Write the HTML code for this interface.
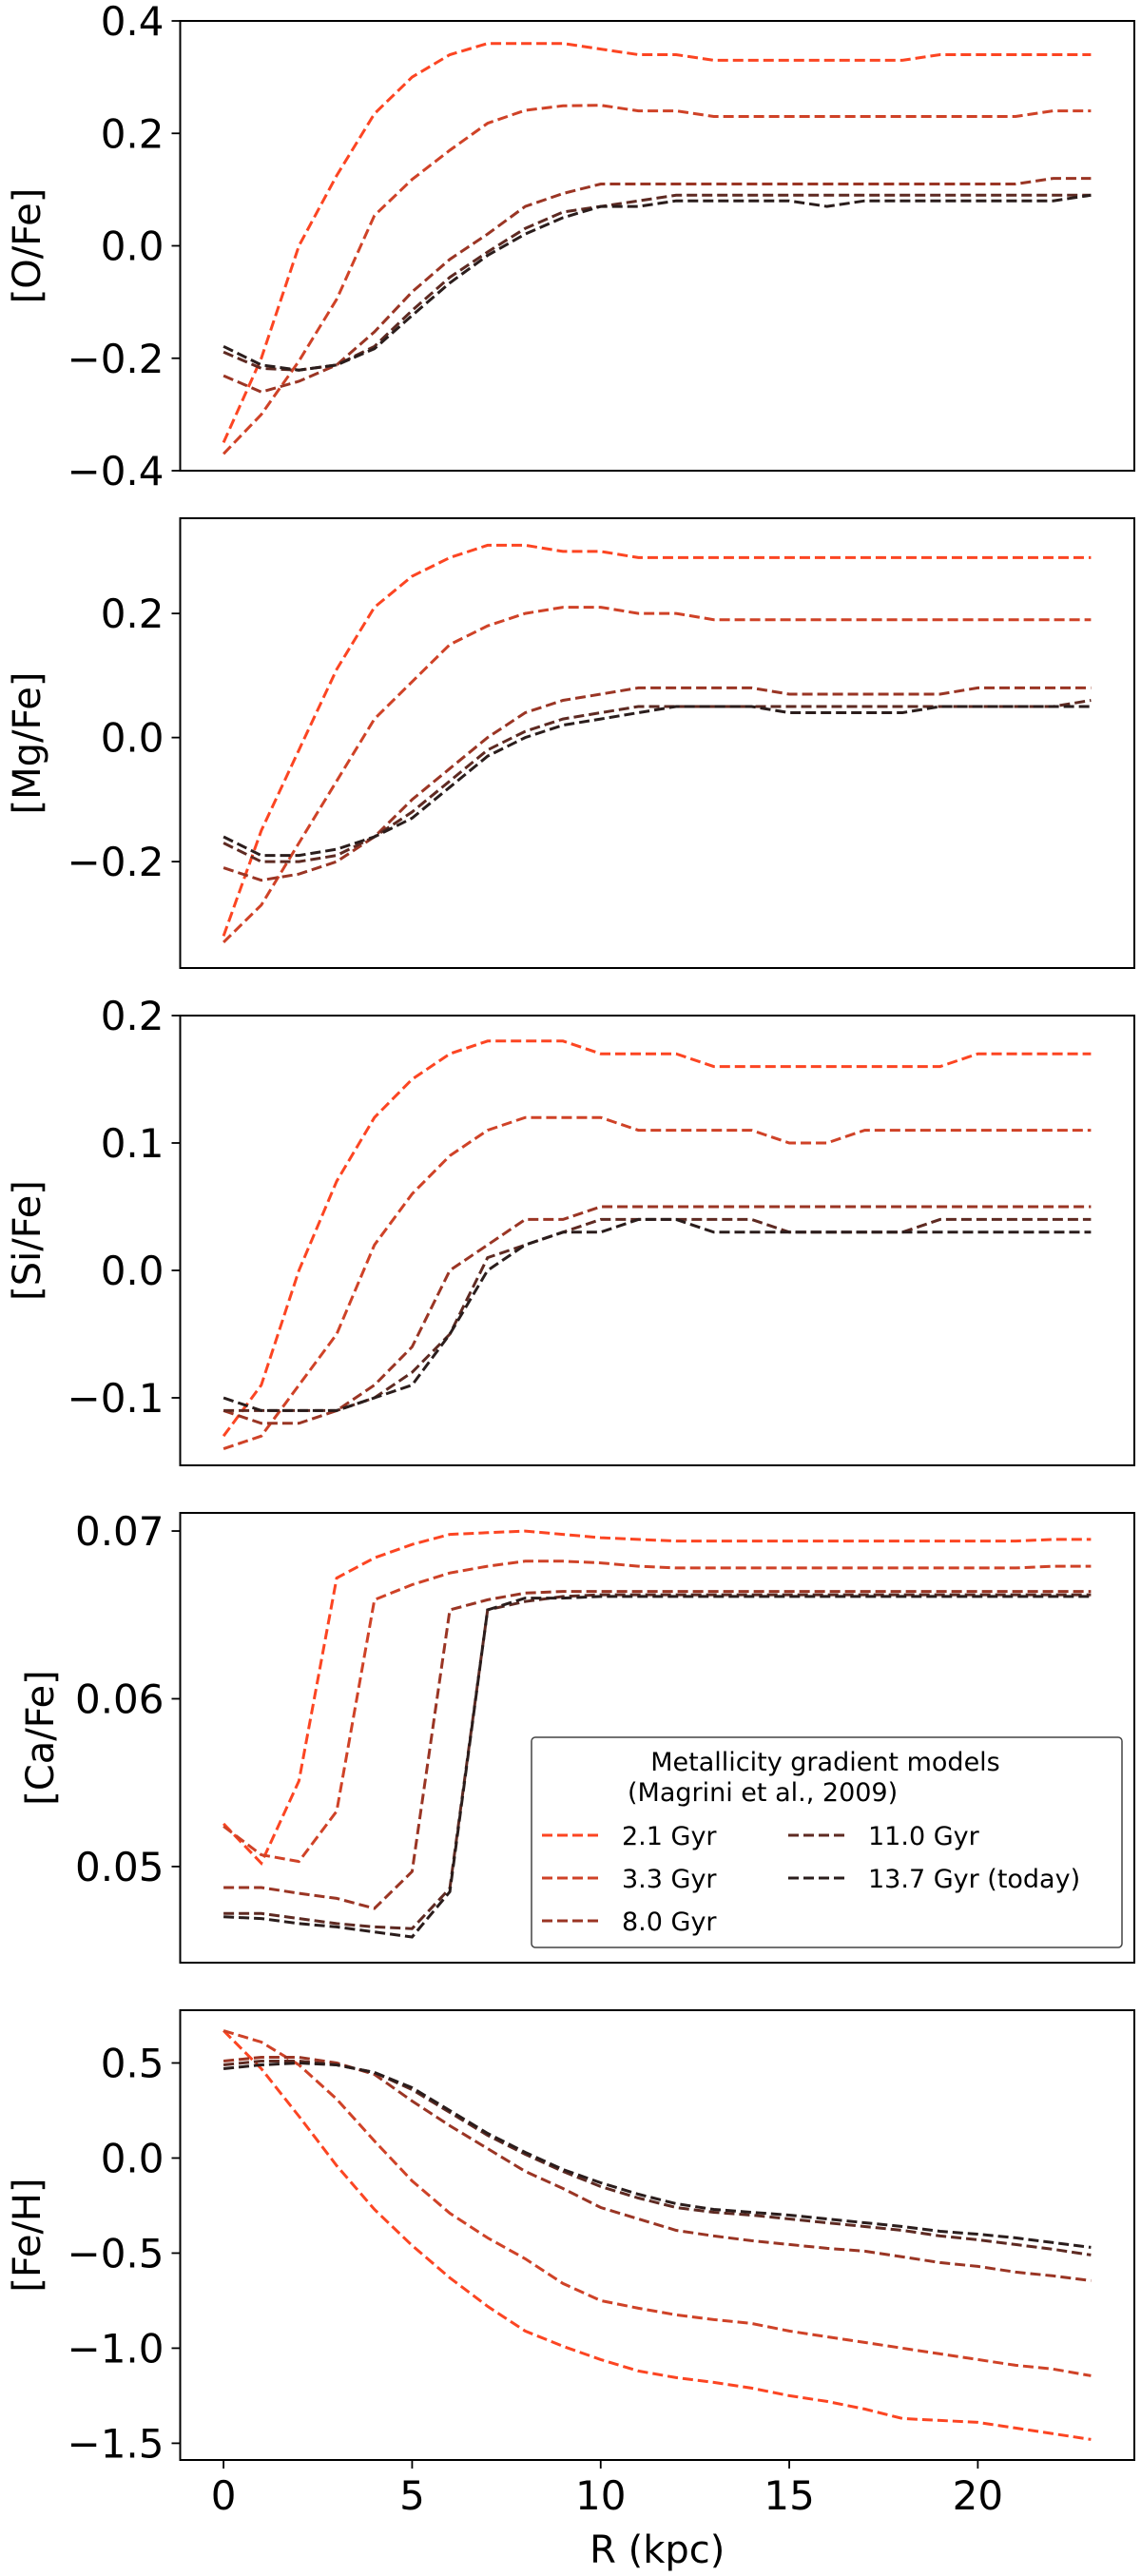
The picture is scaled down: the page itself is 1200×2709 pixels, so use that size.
<!DOCTYPE html>
<html><head><meta charset="utf-8"><style>
html,body{margin:0;padding:0;background:#fff;}
svg{display:block;}
text{font-family:"DejaVu Sans","Liberation Sans",sans-serif;fill:#000;}
</style></head><body>
<svg id="fig" width="1200" height="2709" viewBox="0 0 1200 2709" xmlns="http://www.w3.org/2000/svg"></svg>
<script>
const radii = [0,1,2,3,4,5,6,7,8,9,10,11,12,13,14,15,16,17,18,19,20,21,22,23];
const seriesNames = ["2.1 Gyr","3.3 Gyr","8.0 Gyr","11.0 Gyr","13.7 Gyr (today)"];
const xTicks = [0,5,10,15,20];

const oFe21 = [-0.35,-0.20,0.0,0.125,0.235,0.30,0.34,0.36,0.36,0.36,0.35,0.34,0.34,0.33,0.33,0.33,0.33,0.33,0.33,0.34,0.34,0.34,0.34,0.34];
const oFe33 = [-0.37,-0.30,-0.205,-0.095,0.054,0.118,0.17,0.218,0.241,0.249,0.25,0.24,0.24,0.23,0.23,0.23,0.23,0.23,0.23,0.23,0.23,0.23,0.24,0.24];
const oFe80 = [-0.231,-0.26,-0.241,-0.212,-0.153,-0.082,-0.024,0.021,0.07,0.093,0.11,0.11,0.11,0.11,0.11,0.11,0.11,0.11,0.11,0.11,0.11,0.11,0.12,0.12];
const oFe110 = [-0.189,-0.218,-0.221,-0.212,-0.179,-0.115,-0.056,-0.011,0.031,0.06,0.07,0.08,0.09,0.09,0.09,0.09,0.09,0.09,0.09,0.09,0.09,0.09,0.09,0.09];
const oFe137 = [-0.179,-0.212,-0.221,-0.212,-0.183,-0.124,-0.066,-0.017,0.021,0.05,0.07,0.07,0.08,0.08,0.08,0.08,0.07,0.08,0.08,0.08,0.08,0.08,0.08,0.09];
const oFeTicks = [-0.4,-0.2,0.0,0.2,0.4];

const mgFe21 = [-0.32,-0.15,-0.02,0.11,0.21,0.26,0.29,0.31,0.31,0.30,0.30,0.29,0.29,0.29,0.29,0.29,0.29,0.29,0.29,0.29,0.29,0.29,0.29,0.29];
const mgFe33 = [-0.33,-0.27,-0.17,-0.07,0.03,0.09,0.15,0.18,0.20,0.21,0.21,0.20,0.20,0.19,0.19,0.19,0.19,0.19,0.19,0.19,0.19,0.19,0.19,0.19];
const mgFe80 = [-0.21,-0.23,-0.22,-0.20,-0.16,-0.10,-0.05,0.0,0.04,0.06,0.07,0.08,0.08,0.08,0.08,0.07,0.07,0.07,0.07,0.07,0.08,0.08,0.08,0.08];
const mgFe110 = [-0.17,-0.20,-0.20,-0.19,-0.16,-0.12,-0.07,-0.02,0.01,0.03,0.04,0.05,0.05,0.05,0.05,0.05,0.05,0.05,0.05,0.05,0.05,0.05,0.05,0.06];
const mgFe137 = [-0.16,-0.19,-0.19,-0.18,-0.16,-0.13,-0.08,-0.03,0.0,0.02,0.03,0.04,0.05,0.05,0.05,0.04,0.04,0.04,0.04,0.05,0.05,0.05,0.05,0.05];
const mgFeTicks = [-0.2,0.0,0.2];

const siFe21 = [-0.13,-0.09,0.0,0.07,0.12,0.15,0.17,0.18,0.18,0.18,0.17,0.17,0.17,0.16,0.16,0.16,0.16,0.16,0.16,0.16,0.17,0.17,0.17,0.17];
const siFe33 = [-0.14,-0.13,-0.09,-0.05,0.02,0.06,0.09,0.11,0.12,0.12,0.12,0.11,0.11,0.11,0.11,0.10,0.10,0.11,0.11,0.11,0.11,0.11,0.11,0.11];
const siFe80 = [-0.11,-0.12,-0.12,-0.11,-0.09,-0.06,0.0,0.02,0.04,0.04,0.05,0.05,0.05,0.05,0.05,0.05,0.05,0.05,0.05,0.05,0.05,0.05,0.05,0.05];
const siFe110 = [-0.11,-0.11,-0.11,-0.11,-0.10,-0.08,-0.05,0.01,0.02,0.03,0.04,0.04,0.04,0.04,0.04,0.03,0.03,0.03,0.03,0.04,0.04,0.04,0.04,0.04];
const siFe137 = [-0.10,-0.11,-0.11,-0.11,-0.10,-0.09,-0.05,0.0,0.02,0.03,0.03,0.04,0.04,0.03,0.03,0.03,0.03,0.03,0.03,0.03,0.03,0.03,0.03,0.03];
const siFeTicks = [-0.1,0.0,0.1,0.2];

const caFe21 = [0.05255,0.0502,0.0551,0.0672,0.0684,0.0692,0.0698,0.0699,0.0700,0.0698,0.0696,0.0695,0.0694,0.0694,0.0694,0.0694,0.0694,0.0694,0.0694,0.0694,0.0694,0.0694,0.0695,0.0695];
const caFe33 = [0.0524,0.0507,0.0503,0.0533,0.0659,0.0668,0.0675,0.0679,0.0682,0.0682,0.0681,0.0679,0.0678,0.0678,0.0678,0.0678,0.0678,0.0678,0.0678,0.0678,0.0678,0.0678,0.0679,0.0679];
const caFe80 = [0.04875,0.04875,0.0484,0.0481,0.0475,0.0497,0.0653,0.0659,0.0663,0.0664,0.0664,0.0664,0.0664,0.0664,0.0664,0.0664,0.0664,0.0664,0.0664,0.0664,0.0664,0.0664,0.0664,0.0664];
const caFe110 = [0.0472,0.0472,0.0469,0.0466,0.0464,0.0463,0.0487,0.0653,0.0658,0.0661,0.0662,0.0662,0.0662,0.0662,0.0662,0.0662,0.0662,0.0662,0.0662,0.0662,0.0662,0.0662,0.0662,0.0662];
const caFe137 = [0.0470,0.0469,0.0466,0.0464,0.0461,0.0458,0.0485,0.0653,0.0660,0.0660,0.0661,0.0661,0.0661,0.0661,0.0661,0.0661,0.0661,0.0661,0.0661,0.0661,0.0661,0.0661,0.0661,0.0661];
const caFeTicks = [0.05,0.06,0.07];

const feH21 = [0.67,0.47,0.22,-0.04,-0.27,-0.46,-0.63,-0.78,-0.91,-0.99,-1.06,-1.12,-1.155,-1.18,-1.21,-1.25,-1.28,-1.32,-1.37,-1.38,-1.39,-1.42,-1.45,-1.48];
const feH33 = [0.67,0.61,0.49,0.31,0.09,-0.12,-0.29,-0.42,-0.53,-0.66,-0.75,-0.79,-0.825,-0.85,-0.87,-0.91,-0.94,-0.97,-1.0,-1.03,-1.06,-1.09,-1.11,-1.145];
const feH80 = [0.51,0.53,0.53,0.50,0.44,0.30,0.17,0.05,-0.07,-0.16,-0.26,-0.32,-0.38,-0.41,-0.435,-0.455,-0.475,-0.49,-0.52,-0.55,-0.57,-0.60,-0.62,-0.645];
const feH110 = [0.49,0.51,0.51,0.49,0.45,0.36,0.24,0.12,0.02,-0.07,-0.15,-0.21,-0.26,-0.285,-0.30,-0.32,-0.34,-0.36,-0.38,-0.41,-0.43,-0.455,-0.48,-0.51];
const feH137 = [0.47,0.49,0.50,0.49,0.45,0.37,0.25,0.13,0.03,-0.06,-0.13,-0.19,-0.24,-0.27,-0.285,-0.30,-0.32,-0.34,-0.36,-0.385,-0.40,-0.42,-0.445,-0.47];
const feHTicks = [-1.5,-1.0,-0.5,0.0,0.5];

const NS = "http://www.w3.org/2000/svg";
const svg = document.getElementById("fig");
const colors = ["#fc4522","#cf4227","#9a3524","#5e2a22","#2a1d1c"];
const L = 189.5, R = 1193;
const XMIN = -1.15, XMAX = 24.15;
function X(v){ return L + (v - XMIN) / (XMAX - XMIN) * (R - L); }
function mk(tag, attrs, parent){ const e = document.createElementNS(NS, tag); for (const k in attrs) e.setAttribute(k, attrs[k]); (parent||svg).appendChild(e); return e; }
function fmt(v, dec){ const s = Math.abs(v).toFixed(dec); return (v < -1e-9 ? "\u2212" : "") + s; }

const panels = [
  {key:"o-fe", label:"[O/Fe]", top:22, ymin:-0.4, ymax:0.4, ticks:oFeTicks, dec:1, data:[oFe21,oFe33,oFe80,oFe110,oFe137]},
  {key:"mg-fe", label:"[Mg/Fe]", top:545, ymin:-0.3715, ymax:0.3535, ticks:mgFeTicks, dec:1, data:[mgFe21,mgFe33,mgFe80,mgFe110,mgFe137]},
  {key:"si-fe", label:"[Si/Fe]", top:1068, ymin:-0.153, ymax:0.2, ticks:siFeTicks, dec:1, data:[siFe21,siFe33,siFe80,siFe110,siFe137]},
  {key:"ca-fe", label:"[Ca/Fe]", top:1591, ymin:0.04427, ymax:0.07108, ticks:caFeTicks, dec:2, data:[caFe21,caFe33,caFe80,caFe110,caFe137]},
  {key:"fe-h", label:"[Fe/H]", top:2114, ymin:-1.588, ymax:0.7775, ticks:feHTicks, dec:1, data:[feH21,feH33,feH80,feH110,feH137]}
];
const H = 473;

panels.forEach((p, pi) => {
  const g = mk("g", {});
  
  
  const Y = v => p.top + (p.ymax - v) / (p.ymax - p.ymin) * H;
  const clipId = "clip" + pi;
  const cp = mk("clipPath", {id: clipId}, g);
  mk("rect", {x:L, y:p.top, width:R-L, height:H}, cp);
  p.data.forEach((arr, si) => {
    const d = arr.map((v, i) => (i ? "L" : "M") + X(radii[i]).toFixed(1) + "," + Y(v).toFixed(1)).join(" ");
    const path = mk("path", {d:d, fill:"none", stroke:colors[si], "stroke-width":3, "stroke-dasharray":"11 5", "clip-path":"url(#"+clipId+")"}, g);
    
    
  });
  const fr = mk("rect", {x:L, y:p.top, width:R-L, height:H, fill:"none", stroke:"#000", "stroke-width":2}, g);
  
  
  p.ticks.forEach(t => {
    const y = Y(t);
    const tk = mk("line", {x1:L-9, x2:L, y1:y, y2:y, stroke:"#000", "stroke-width":1.8}, g);
    
    
    const tl = mk("text", {x:L-17, y:y+15, "text-anchor":"end", "font-size":42}, g);
    tl.textContent = fmt(t, p.dec);
    
    
  });
  const cy = p.top + H/2;
  const yl = mk("text", {x:0, y:0, "text-anchor":"middle", "font-size":40, transform:"translate(" + (pi===3?56:42) + "," + cy + ") rotate(-90)"}, g);
  yl.textContent = p.label;
  
  
  if (pi === 4) {
    xTicks.forEach(t => {
      const x = X(t);
      const tk = mk("line", {x1:x, x2:x, y1:p.top+H, y2:p.top+H+9, stroke:"#000", "stroke-width":1.8}, g);
      
      
      const tl = mk("text", {x:x, y:2639, "text-anchor":"middle", "font-size":42}, g);
      tl.textContent = String(t);
      
      
    });
    const xl = mk("text", {x:(L+R)/2, y:2695, "text-anchor":"middle", "font-size":40}, g);
    xl.textContent = "R (kpc)";
    
    
  }
});

const lg = mk("g", {});


const lbox = mk("rect", {x:559, y:1827, width:621, height:221, rx:4, fill:"#fff", stroke:"#444", "stroke-width":1.5, "fill-opacity":0.9}, lg);


const t1 = mk("text", {x:868, y:1862, "text-anchor":"middle", "font-size":27}, lg);
t1.textContent = "Metallicity gradient models";


const t2 = mk("text", {x:660, y:1894, "font-size":27}, lg);
t2.textContent = "(Magrini et al., 2009)";


const legPos = [[570,1930],[570,1975],[570,2020],[829,1930],[829,1975]];
seriesNames.forEach((n, i) => {
  const [lx, ly] = legPos[i];
  const ln = mk("line", {x1:lx, x2:lx+60, y1:ly, y2:ly, stroke:colors[i], "stroke-width":3, "stroke-dasharray":"11 5"}, lg);
  
  
  const tx = mk("text", {x:lx+84, y:ly+10, "font-size":27}, lg);
  tx.textContent = n;
  
  
});
</script>
</body></html>
